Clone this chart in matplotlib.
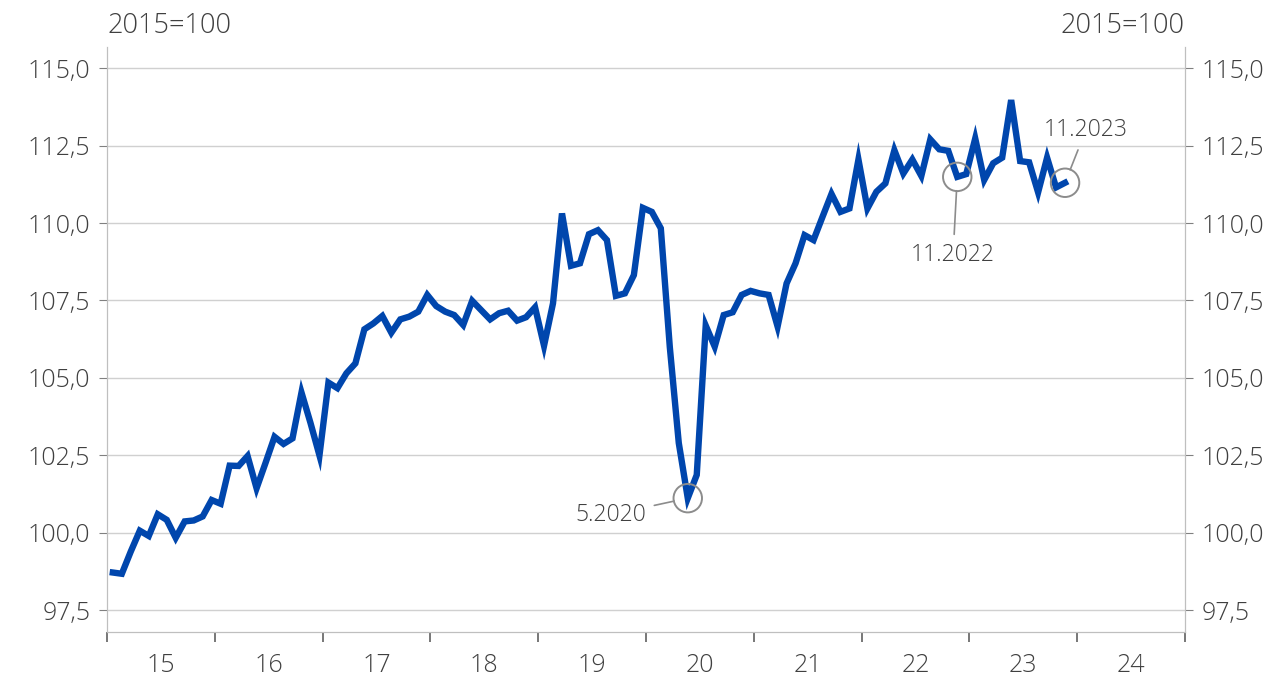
import matplotlib.pyplot as plt
import matplotlib.ticker as mticker

# monthly index, 2015=100, Jan 2015 .. Nov 2023
start_year = 2015
values = [
    # 2015
    98.72, 98.68, 99.40, 100.07, 99.90, 100.60, 100.42, 99.84, 100.37, 100.40, 100.53, 101.06,
    # 2016
    100.94, 102.17, 102.16, 102.48, 101.44, 102.26, 103.10, 102.87, 103.05, 104.53, 103.55, 102.50,
    # 2017
    104.85, 104.67, 105.15, 105.47, 106.57, 106.76, 107.00, 106.46, 106.89, 106.98, 107.14, 107.68,
    # 2018
    107.32, 107.14, 107.03, 106.71, 107.49, 107.19, 106.89, 107.09, 107.17, 106.85, 106.96, 107.28,
    # 2019
    106.04, 107.41, 110.31, 108.62, 108.70, 109.64, 109.77, 109.45, 107.65, 107.73, 108.32, 110.49,
    # 2020
    110.36, 109.83, 106.00, 102.90, 101.12, 101.87, 106.69, 106.01, 107.03, 107.12, 107.68, 107.81,
    # 2021
    107.73, 107.68, 106.66, 108.05, 108.70, 109.61, 109.45, 110.20, 110.94, 110.36, 110.47, 112.05,
    # 2022
    110.47, 111.01, 111.28, 112.35, 111.60, 112.05, 111.52, 112.70, 112.38, 112.33, 111.49, 111.58,
    # 2023
    112.73, 111.39, 111.93, 112.11, 113.97, 112.00, 111.96, 110.99, 112.11, 111.15, 111.30,
]
year_labels = ['15', '16', '17', '18', '19', '20', '21', '22', '23', '24']
y_ticks = [97.5, 100.0, 102.5, 105.0, 107.5, 110.0, 112.5, 115.0]

# annotated points: (month index, label, label offset in points, ha)
notes = [
    (64, '5.2020', (-30, -12), 'right'),
    (94, '11.2022', (-3, -56), 'center'),
    (106, '11.2023', (15, 38), 'center'),
]

x = [start_year + (i + 0.65) / 12 for i in range(len(values))]

plt.rcParams['font.family'] = ['Open Sans', 'DejaVu Sans']
plt.rcParams['font.weight'] = 300
text_col = '#404040'
grid_col = '#d0d0d0'
spine_col = '#bfbfbf'
fmt = mticker.FuncFormatter(lambda v, p: f'{v:.1f}'.replace('.', ','))

fig = plt.figure(figsize=(12.83, 6.82), dpi=100)
ax = fig.add_axes([0.0834, 0.0733, 0.8402, 0.8577])

ax.plot(x, values, color='#0046ad', lw=4.6, solid_joinstyle='miter', zorder=3)

ax.set_xlim(2015, 2025)
ax.set_ylim(96.8, 115.68)
ax.set_yticks(y_ticks)
ax.yaxis.set_major_formatter(fmt)
ax.grid(axis='y', color=grid_col, lw=1)
ax.set_axisbelow(True)

ax.set_xticks(range(2015, 2026))
ax.set_xticks([2015.5 + i for i in range(10)], minor=True)
ax.set_xticklabels([])
ax.set_xticklabels(year_labels, minor=True)
ax.tick_params(axis='x', which='major', length=7, width=1.2, color='#606060', direction='out')
ax.tick_params(axis='x', which='minor', length=0, pad=15, labelsize=18, labelcolor=text_col)
ax.tick_params(axis='y', length=6, color='#808080', labelsize=18, labelcolor=text_col, pad=6)

for s in ['left', 'right', 'bottom']:
    ax.spines[s].set_color(spine_col)
ax.spines['top'].set_visible(False)

ax2 = ax.twinx()
ax2.set_ylim(ax.get_ylim())
ax2.set_yticks(y_ticks)
ax2.yaxis.set_major_formatter(fmt)
ax2.tick_params(axis='y', length=6, color='#808080', labelsize=18, labelcolor=text_col, pad=6)
for s in ['left', 'right', 'bottom']:
    ax2.spines[s].set_color(spine_col)
ax2.spines['top'].set_visible(False)

fig.text(0.0834, 0.962, '2015=100', fontsize=19.5, color=text_col, ha='left', va='center')
fig.text(0.9236, 0.962, '2015=100', fontsize=19.5, color=text_col, ha='right', va='center')

for idx, label, off, ha in notes:
    ax.scatter([x[idx]], [values[idx]], s=420, facecolors='none', edgecolors='#8c8c8c',
               linewidths=1.4, zorder=4)
    ax.annotate(label, xy=(x[idx], values[idx]), xytext=off, textcoords='offset points',
                ha=ha, va='center', fontsize=16.5, color=text_col,
                arrowprops=dict(arrowstyle='-', color='#8c8c8c', lw=1.2, shrinkA=4, shrinkB=10))

fig.savefig('out.png', dpi=100)
